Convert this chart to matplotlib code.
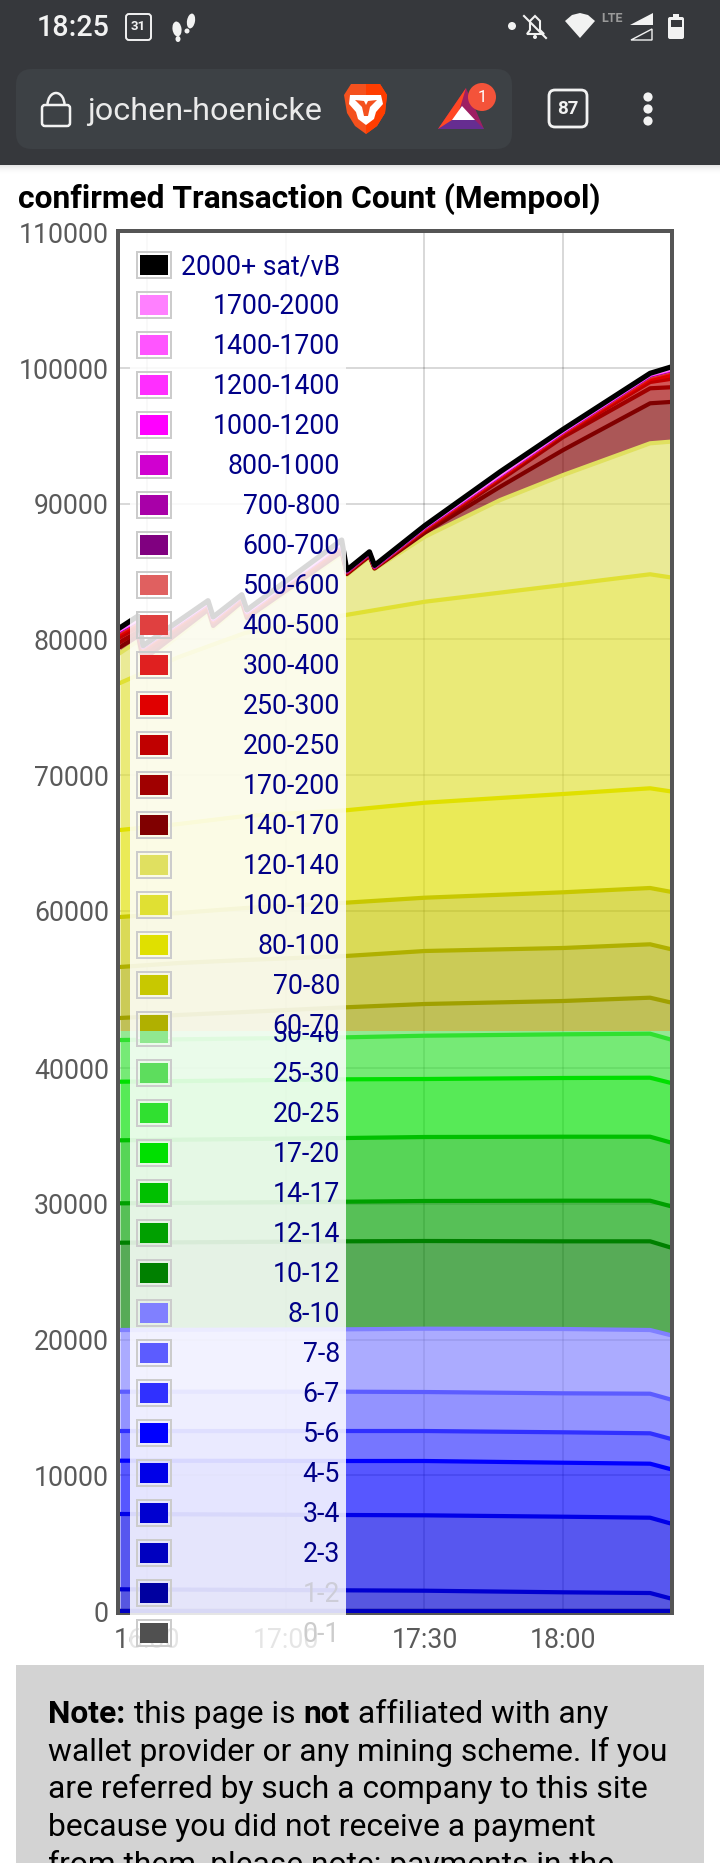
import matplotlib
matplotlib.use("Agg")
import matplotlib.pyplot as plt
import numpy as np
from matplotlib.patches import Rectangle, FancyBboxPatch, Circle, Polygon, Ellipse, Arc

plt.rcParams['font.family'] = ['Roboto', 'DejaVu Sans']

# ---------- data ----------
tick_minutes = [0, 30, 60, 90]              # minutes after 16:30
tick_labels = ['16:30', '17:00', '17:30', '18:00']
y_ticks_low = [0, 10000, 20000, 30000, 40000]
y_ticks_up = [60000, 70000, 80000, 90000, 100000, 110000]

t_low = [-5.84, 43, 60.1, 90, 108.8, 113.1]
top_0_1 = [10, 10, 10, 10, 10, 10]
top_1_2 = [20, 20, 20, 20, 20, 20]
top_2_3 = [30, 30, 30, 30, 30, 30]
top_3_4 = [1599, 1525, 1496, 1378, 1326, 936]
top_4_5 = [7148, 7074, 7052, 6949, 6875, 6463]
top_5_6 = [11076, 11054, 11054, 10928, 10855, 10464]
top_6_7 = [13264, 13264, 13264, 13169, 13095, 12697]
top_7_8 = [16160, 16160, 16138, 16042, 16013, 15600]
top_8_10 = [20707, 20758, 20803, 20781, 20707, 20338]
top_10_12 = [27140, 27243, 27265, 27243, 27243, 26801]
top_12_14 = [30043, 30162, 30213, 30235, 30235, 29844]
top_14_17 = [34686, 34855, 34929, 34951, 34951, 34539]
top_17_20 = [39004, 39181, 39203, 39277, 39299, 38931]
top_20_25 = [42077, 42276, 42394, 42497, 42542, 42129]
top_25_30 = [43500, 43700, 43800, 43900, 43950, 43500]
top_30_40 = [44500, 44700, 44800, 44900, 44950, 44500]

t_mid = [-5.84, 6.9, 21.2, 43, 60.1, 90, 108.8, 113.1]
top_50_60 = [52101, 52323, 52544, 52890, 53133, 53354, 53597, 53258]
top_60_70 = [55860, 56154, 56376, 56670, 57039, 57260, 57532, 57186]
top_70_80 = [59544, 59839, 60207, 60598, 60966, 61364, 61681, 61409]
top_80_100 = [65955, 66397, 66987, 67407, 67967, 68608, 69028, 68807]
top_100_120 = [76788, 78704, 80472, 81799, 82778, 84009, 84798, 84577]

t_top = [-5.84, -1.95, -0.87, 13.2, 14.3, 20.5, 21.6, 42.1, 43.2, 48.1, 49.2, 60.1, 76.4, 90, 108.8, 113.1]
top_120_140 = [78998, 79883, 78188, 82020, 80841, 82609, 81430, 86294, 84746, 86073, 85188, 87569, 90273, 92115, 94451, 94569]
n_140_170 = [442, 368, 295, 147, 147, 147, 147, 147, 74, 74, 37, 300, 980, 1842, 2948, 2926]
n_170_200 = [368, 295, 295, 147, 147, 147, 147, 147, 37, 74, 37, 150, 494, 958, 1105, 1083]
n_200_250 = [368, 368, 368, 147, 147, 74, 74, 147, 37, 37, 22, 80, 147, 221, 464, 612]
n_250_300 = [221, 221, 147, 74, 74, 74, 74, 147, 37, 37, 15, 60, 74, 74, 221, 258]
n_300_400 = [147, 147, 74, 74, 74, 74, 74, 74, 37, 22, 15, 37, 74, 37, 147, 258]
n_400_500 = [74, 74, 37, 37, 37, 37, 37, 37, 15, 15, 15, 37, 37, 37, 74, 74]
n_500_600 = [37, 37, 15, 15, 15, 15, 15, 15, 7, 7, 7, 15, 15, 15, 37, 37]
n_600_700 = [15] * 16
n_700_800 = [15] * 16
n_800_1000 = [15] * 16
n_1000_1200 = [15] * 16
n_1200_1400 = [15] * 16
n_1400_1700 = [15] * 16
n_1700_2000 = [15] * 16
n_2000 = [101, 226, 10, 86, 64, 10, 64, 211, 10, 10, 10, 40, 160, 79, 57, 130]

labels_up = ['2000+ sat/vB', '1700-2000', '1400-1700', '1200-1400', '1000-1200', '800-1000', '700-800',
             '600-700', '500-600', '400-500', '300-400', '250-300', '200-250', '170-200', '140-170',
             '120-140', '100-120', '80-100', '70-80', '60-70']
colors_up = ['#000000', '#ff80ff', '#ff55ff', '#ff2eff', '#ff00ff', '#d000d0', '#a800a8',
             '#800080', '#e06060', '#e04040', '#e02020', '#e00000', '#c00000', '#a00000', '#800000',
             '#e0e060', '#e0e033', '#e0e000', '#c8c800', '#b0b000']
color_50_60 = '#a0a000'
labels_low = ['30-40', '25-30', '20-25', '17-20', '14-17', '12-14', '10-12', '8-10',
              '7-8', '6-7', '5-6', '4-5', '3-4', '2-3', '1-2', '0-1']
colors_low = ['#90e890', '#5ddd5d', '#30e030', '#00e000', '#00c000', '#00a000', '#008000', '#8080ff',
              '#5c5cff', '#3030ff', '#0000ff', '#0000e8', '#0000d0', '#0000c0', '#0000a0', '#505050']

# ---------- figure ----------
W, H = 720, 1863
fig = plt.figure(figsize=(W / 100, H / 100), dpi=100, facecolor='white')
PX = 0.72


def box(l, t, r, b):
    return [l / W, 1 - b / H, (r - l) / W, (b - t) / H]


ax_up = fig.add_axes(box(120, 232, 670, 1031))
ax_low = fig.add_axes(box(120, 1031, 670, 1613))
GRID = dict(color='#000000', alpha=0.15, linewidth=2 * PX)
for ax in (ax_up, ax_low):
    ax.set_xlim(-5.84, 113.1)
    ax.set_facecolor('white')
    for s in ax.spines.values():
        s.set_visible(False)
    ax.set_axisbelow(True)
    ax.grid(True, **GRID)
    ax.set_xticks(tick_minutes)
ax_up.set_ylim(51143, 110022)
ax_low.set_ylim(-147, 42741)
ax_up.set_yticks(y_ticks_up)
ax_low.set_yticks(y_ticks_low)
ax_up.tick_params(axis='x', length=0, labelbottom=False)
ax_low.set_xticklabels(tick_labels)
ax_low.tick_params(axis='x', length=0, pad=10, labelsize=19.2, labelcolor='#5a5a5a')
for ax in (ax_up, ax_low):
    ax.tick_params(axis='y', length=0, pad=8, labelsize=19.2, labelcolor='#5a5a5a')

LW = 4.2 * PX
FILL = 0.66


def layer(ax, t, lower, upper, col, lw=LW):
    ax.fill_between(t, lower, upper, color=col, alpha=FILL, linewidth=0, zorder=2)
    ax.plot(t, upper, color=col, lw=lw, zorder=3, solid_joinstyle='round')


# lower panel
prev = np.zeros(len(t_low))
low_tops = [top_0_1, top_1_2, top_2_3, top_3_4, top_4_5, top_5_6, top_6_7, top_7_8, top_8_10,
            top_10_12, top_12_14, top_14_17, top_17_20, top_20_25, top_25_30, top_30_40]
for vals, col in zip(low_tops, colors_low[::-1]):
    layer(ax_low, t_low, prev, vals, col)
    prev = np.array(vals, float)

# upper panel
mid_tops = [top_50_60, top_60_70, top_70_80, top_80_100, top_100_120]
mid_cols = [color_50_60] + colors_up[19:15:-1]
prev = np.full(len(t_mid), 40000.0)
for vals, col in zip(mid_tops, mid_cols):
    layer(ax_up, t_mid, prev, vals, col)
    prev = np.array(vals, float)
# 120-140 sits on the 100-120 curve: fill on the union of the two time grids
t_union = np.array(sorted(set(t_mid) | set(t_top)))
lower_interp = np.interp(t_union, t_mid, top_100_120)
upper_interp = np.interp(t_union, t_top, top_120_140)
ax_up.fill_between(t_union, lower_interp, upper_interp, color=colors_up[15], alpha=FILL, linewidth=0, zorder=2)
ax_up.plot(t_top, top_120_140, color=colors_up[15], lw=LW, zorder=3)
prev = np.array(top_120_140, float)
counts = [n_140_170, n_170_200, n_200_250, n_250_300, n_300_400, n_400_500, n_500_600, n_600_700,
          n_700_800, n_800_1000, n_1000_1200, n_1200_1400, n_1400_1700, n_1700_2000, n_2000]
for vals, col in zip(counts, colors_up[14::-1]):
    cur = prev + np.array(vals, float)
    layer(ax_up, t_top, prev, cur, col, lw=(5.2 * PX if col == '#000000' else LW))
    prev = cur

# ---------- overlay in pixel coordinates ----------
ov = fig.add_axes([0, 0, 1, 1], zorder=10)
ov.set_xlim(0, W)
ov.set_ylim(H, 0)
ov.axis('off')
ov.patch.set_alpha(0)


def rect(l, t, r, b, **kw):
    kw.setdefault('linewidth', 0)
    p = Rectangle((l, t), r - l, b - t, **kw)
    ov.add_patch(p)
    return p


def rbox(l, t, r, b, rad, **kw):
    kw.setdefault('linewidth', 0)
    p = FancyBboxPatch((l + rad, t + rad), r - l - 2 * rad, b - t - 2 * rad,
                       boxstyle=f'round,pad={rad},rounding_size={rad}', **kw)
    ov.add_patch(p)
    return p


# frame
FR = '#555555'
rect(116, 229, 674, 233, facecolor=FR)
rect(116, 229, 120, 1615, facecolor=FR)
rect(670, 229, 674, 1615, facecolor=FR)
rect(116, 1613, 674, 1615, facecolor=FR)

LEG_TEXT = '#000088'


def legend_row(y, label, col, clip=None, tcol=LEG_TEXT):
    a = rect(137, y - 12.7, 171, y + 12.7, facecolor='none', edgecolor='#cccccc', linewidth=2 * PX)
    b = rect(140, y - 10, 168, y + 10, facecolor=col)
    t = ov.text(340, y + 9, label, ha='right', va='baseline', fontsize=19.2, color=tcol)
    if clip is not None:
        a.set_clip_path(clip)
        b.set_clip_path(clip)
        t.set_clip_path(clip)
        t.set_clip_on(True)


# upper legend
rect(130, 233, 346, 1031, facecolor='white', alpha=0.85)
for i, (lab, col) in enumerate(zip(labels_up, colors_up)):
    legend_row(265 + 40 * i, lab, col)
# lower legend
rect(130, 1031, 346, 1615, facecolor='white', alpha=0.85)
rect(130, 1615, 346, 1660, facecolor='white', alpha=0.85)
clip_low = Rectangle((0, 1031), W, H - 1031, transform=ov.transData)
for i, (lab, col) in enumerate(zip(labels_low, colors_low)):
    tc = {'1-2': '#cdcdd8', '0-1': '#cccccc'}.get(lab, LEG_TEXT)
    legend_row(1033 + 40 * i, lab, col, clip=clip_low, tcol=tc)

# title
ov.text(18, 208, 'confirmed Transaction Count (Mempool)', fontsize=22.85, fontweight='bold',
        color='black', ha='left', va='baseline')

# note box
rect(16, 1665, 704, 1864, facecolor='#d3d3d3')
note_lines = [
    [('Note:', 'bold'), (' this page is ', 'normal'), ('not', 'bold'), (' affiliated with any', 'normal')],
    [('wallet provider or any mining scheme. If you', 'normal')],
    [('are referred by such a company to this site', 'normal')],
    [('because you did not receive a payment', 'normal')],
    [('from them, please note: payments in the', 'normal')],
]
fig.canvas.draw()
rnd = fig.canvas.get_renderer()
for ln, base in zip(note_lines, [1723, 1761, 1798.5, 1836, 1874]):
    x = 48.5
    for txt, w in ln:
        t = ov.text(x, base, txt.replace(' ', '\u00a0'), fontsize=22.9, fontweight=w, color='black',
                    ha='left', va='baseline')
        x += t.get_window_extent(rnd).width

# browser chrome
DARK = '#36383c'
rect(0, 0, W, 165, facecolor=DARK)
for i in range(10):
    rect(0, 165 + i, W, 166 + i, facecolor='black', alpha=0.10 * (1 - i / 10) ** 2)
rbox(16, 69, 512, 149, 16, facecolor='#3d4145')
WH = '#f2f2f2'
ov.text(36.5, 36, '18:25', fontsize=20.6, fontweight='medium', color=WH, ha='left', va='baseline')
rbox(126, 14, 151, 40, 3, facecolor='none', edgecolor=WH, linewidth=1.4)
ov.text(138.5, 27, '31', fontsize=9.5, fontweight='bold', color=WH, ha='center', va='center')
ov.add_patch(Ellipse((177, 29), 9, 15, angle=-8, facecolor=WH))
ov.add_patch(Ellipse((178, 39), 5, 6, facecolor=WH))
ov.add_patch(Ellipse((191, 21), 8, 15, angle=10, facecolor=WH))
ov.add_patch(Ellipse((187, 31), 5, 5, facecolor=WH))
ov.add_patch(Circle((512, 26), 4, facecolor=WH))
# muted bell
ov.add_patch(Polygon([[527, 34], [530, 30], [530, 21], [535, 16], [540, 21], [540, 30], [544, 34]],
                     closed=True, facecolor='none', edgecolor=WH, linewidth=1.5))
ov.add_patch(Circle((535, 37), 2, facecolor=WH))
ov.plot([524, 546], [16, 38], color=WH, lw=1.5)
# wifi
ov.add_patch(Polygon([[565, 21], [572, 15], [580, 13], [588, 15], [595, 21], [580, 38]], closed=True, facecolor=WH))
ov.text(612, 18.5, 'LTE', fontsize=9, fontweight='bold', color='#9a9a9a', ha='center', va='center')
ov.add_patch(Polygon([[630, 25], [653, 13], [653, 25]], closed=True, facecolor=WH))
ov.add_patch(Polygon([[631, 40], [652, 29], [652, 40]], closed=True, facecolor='none', edgecolor=WH, linewidth=1))
rbox(668, 17, 684, 39, 2, facecolor=WH)
rect(673, 14, 679, 18, facecolor=WH)
rect(670.5, 20, 681.5, 27, facecolor=DARK)

# address bar content
rbox(42, 105, 70, 126, 3, facecolor='none', edgecolor=WH, linewidth=1.8)
ov.add_patch(Arc((56, 105), 17, 24, theta1=180, theta2=360, edgecolor=WH, linewidth=1.8))
ov.text(87, 120, 'jochen-hoenicke', fontsize=23.3, color='#eaeaea', ha='left', va='baseline')
# brave lion
ov.add_patch(Polygon([[351, 84], [380, 84], [387, 95], [385, 113], [377, 126], [366, 134], [355, 126],
                      [347, 113], [344, 95]], closed=True, facecolor='#f4511e'))
ov.add_patch(Polygon([[366, 84], [380, 84], [387, 95], [385, 113], [377, 126], [366, 134]], closed=True,
                     facecolor='#ff3d00'))
ov.add_patch(Polygon([[350, 95], [381, 95], [383, 104], [376, 112], [374, 119], [366, 125], [358, 119],
                      [356, 112], [349, 104]], closed=True, facecolor='white'))
ov.add_patch(Polygon([[355, 100], [364, 101], [366, 105], [368, 101], [377, 100], [370, 107], [368, 116],
                      [364, 116], [362, 107]], closed=True, facecolor='#f4511e'))
# BAT triangle
ov.add_patch(Polygon([[466, 88], [438, 129], [484, 129]], closed=True, facecolor='#9e1f63'))
ov.add_patch(Polygon([[466, 88], [438, 129], [456, 121]], closed=True, facecolor='#ff4724'))
ov.add_patch(Polygon([[438, 129], [484, 129], [475, 120], [452, 120]], closed=True, facecolor='#662d91'))
ov.add_patch(Polygon([[462, 106], [452, 120], [475, 120]], closed=True, facecolor='white'))
ov.add_patch(Circle((482, 97), 14, facecolor='#f4533a'))
ov.text(482, 97, '1', fontsize=12, color='white', ha='center', va='center')
# tabs & menu
rbox(549, 90, 587, 127, 6, facecolor='none', edgecolor=WH, linewidth=2)
ov.text(568, 108.5, '87', fontsize=13.5, fontweight='bold', color=WH, ha='center', va='center')
for yy in (97, 109, 121):
    ov.add_patch(Circle((648, yy), 4.6, facecolor=WH))

fig.savefig('out.png', dpi=100)
